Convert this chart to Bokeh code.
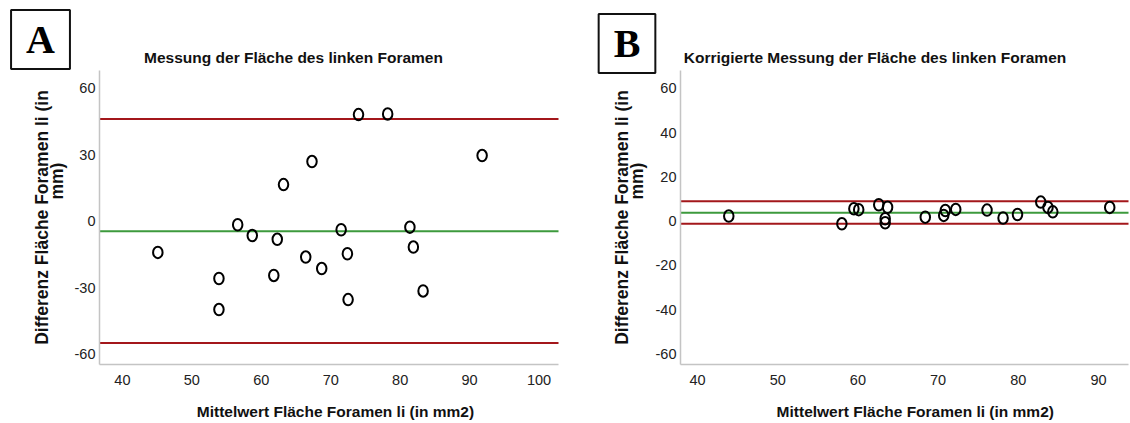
from bokeh.plotting import figure
from bokeh.layouts import row
from bokeh.models import Label, FixedTicker, Range1d
from bokeh.embed import file_html
from bokeh.resources import INLINE

# ---------------- data ----------------
# Panel A: "Messung der Fläche des linken Foramen"
a_mean = [45.1, 53.9, 53.9, 56.6, 58.7, 62.3, 61.8, 63.2, 66.4, 67.3,
          68.7, 71.5, 72.4, 72.5, 74.0, 78.2, 81.4, 81.9, 83.3, 91.8]
a_diff = [-14.1, -25.9, -39.9, -1.6, -6.5, -8.2, -24.5, 16.5, -16.2, 26.9,
          -21.4, -3.9, -14.7, -35.4, 48.1, 48.4, -2.7, -11.7, -31.5, 29.6]
a_bias = -4.5
a_upper = 46.1
a_lower = -55.0
a_xticks = [40, 50, 60, 70, 80, 90, 100]
a_yticks = [-60, -30, 0, 30, 60]
a_xlim = (36.7, 102.8)
a_ylim = (-64.7, 68.0)

# Panel B: "Korrigierte Messung der Fläche des linken Foramen"
b_mean = [43.9, 58.0, 59.5, 60.1, 62.6, 63.7, 63.4, 63.4, 68.4, 70.7,
          70.9, 72.2, 76.1, 78.1, 79.9, 82.8, 83.7, 84.3, 91.4]
b_diff = [2.3, -1.2, 5.6, 5.2, 7.4, 6.3, 1.1, -0.7, 1.8, 2.6,
          4.8, 5.3, 5.0, 1.4, 3.0, 8.6, 6.2, 4.2, 6.2]
b_bias = 3.8
b_upper = 9.0
b_lower = -1.2
b_xticks = [40, 50, 60, 70, 80, 90]
b_yticks = [-60, -40, -20, 0, 20, 40, 60]
b_xlim = (37.88, 93.74)
b_ylim = (-64.7, 68.0)

titles = ["Messung der Fläche des linken Foramen",
          "Korrigierte Messung der Fläche des linken Foramen"]
panel_letters = ["A", "B"]
x_label = "Mittelwert Fläche Foramen li (in mm2)"
y_label = "Differenz Fläche Foramen li (in\n" + "\u00a0" * 15 + "mm)"

RED = "#a3171b"
GREEN = "#3d9a3d"
AXIS = "#c4c4c4"
FONT = "Liberation Sans"
W, H = 565, 423


def panel(xs, ys, bias, upper, lower, xticks, yticks, xlim, ylim,
          frame_px, title, letter, title_px, box_px, ylab_standoff, xlab_pad):
    left, right, top, bottom = frame_px
    x0, x1 = xlim
    y0, y1 = ylim
    sx = (right - left) / (x1 - x0)
    sy = (bottom - top) / (y1 - y0)
    xr = (x0 - left / sx, x1 + (W - right) / sx)
    yr = (y0 - (H - bottom) / sy, y1 + top / sy)

    def dx(px):
        return xr[0] + px / sx

    def dy(py):
        return yr[1] - py / sy

    p = figure(width=W, height=H, output_backend="svg", toolbar_location=None,
               x_range=Range1d(*xr), y_range=Range1d(*yr), min_border=0,
               min_border_left=0, min_border_right=0, min_border_top=0,
               min_border_bottom=0)
    p.outline_line_color = None
    p.xgrid.visible = False
    p.ygrid.visible = False
    p.background_fill_color = "white"
    p.border_fill_color = "white"

    for ax in (p.xaxis[0], p.yaxis[0]):
        ax.axis_line_color = AXIS
        ax.axis_line_width = 1.5
        ax.major_tick_line_color = None
        ax.minor_tick_line_color = None
        ax.major_tick_out = 0
        ax.major_tick_in = 0
        ax.minor_tick_out = 0
        ax.major_label_text_font = FONT
        ax.major_label_text_font_size = "14.5px"
        ax.major_label_text_color = "#222222"
        ax.axis_label_text_font = FONT
        ax.axis_label_text_font_style = "bold"
        ax.axis_label_text_color = "#111111"

    p.xaxis.fixed_location = y0
    p.yaxis.fixed_location = x0
    p.xaxis.bounds = (x0, x1)
    p.yaxis.bounds = (y0, y1)
    p.xaxis.ticker = FixedTicker(ticks=xticks)
    p.yaxis.ticker = FixedTicker(ticks=yticks)
    p.xaxis.major_label_overrides = {t: str(t) for t in xticks}
    p.yaxis.major_label_overrides = {t: str(t) for t in yticks}
    p.xaxis.axis_label = "\u00a0" * xlab_pad + x_label
    p.yaxis.axis_label = y_label
    p.xaxis.axis_label_text_font_size = "15.5px"
    p.yaxis.axis_label_text_font_size = "17.5px"
    p.yaxis.axis_label_text_line_height = 0.75
    p.xaxis.major_label_standoff = 10
    p.xaxis.axis_label_standoff = 15
    p.yaxis.major_label_standoff = 4
    p.yaxis.axis_label_standoff = ylab_standoff

    levels = [upper, bias, lower]
    p.segment(x0=[x0] * 3, x1=[x1] * 3, y0=levels, y1=levels,
              line_color=[RED, GREEN, RED], line_width=2)

    p.ellipse(x=xs, y=ys, width=9.5, height=11.5, width_units="screen",
              height_units="screen", fill_color=None, line_color="black", line_width=2)

    p.add_layout(Label(x=dx(title_px[0]), y=dy(title_px[1]),
                       text=title, text_font=FONT, text_font_style="bold",
                       text_font_size="15.5px", text_color="#111111",
                       text_align="center", text_baseline="middle"))
    p.add_layout(Label(x=dx(box_px[0]), y=dy(box_px[1]),
                       text=letter, text_font="Liberation Serif", text_font_style="bold",
                       text_font_size="40px", text_color="black",
                       text_align="center", text_baseline="middle",
                       border_line_color="#111111", border_line_width=2,
                       background_fill_color="white", padding=(15, 7)))
    return p


pa = panel(a_mean, a_diff, a_bias, a_upper, a_lower, a_xticks, a_yticks,
           a_xlim, a_ylim, (99, 558, 70, 364), titles[0], panel_letters[0],
           (293, 57), (40, 39), 5, 3)
pb = panel(b_mean, b_diff, b_bias, b_upper, b_lower, b_xticks, b_yticks,
           b_xlim, b_ylim, (115, 563, 70, 364), titles[1], panel_letters[1],
           (309.5, 57), (61.5, 43), 6, 5)

layout = row(pa, pb, spacing=0)
open("out.html", "w").write(file_html(layout, INLINE))
